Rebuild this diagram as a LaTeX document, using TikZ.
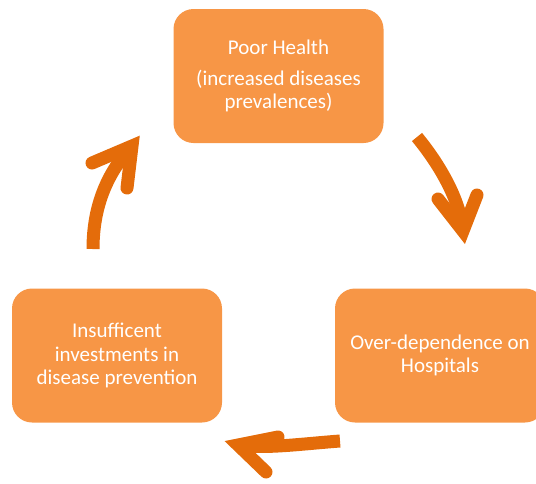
\documentclass[tikz,border=0pt]{standalone}
\usepackage{fontspec}
\setmainfont{Carlito}
\definecolor{boxorange}{HTML}{F79646}
\definecolor{arroworange}{HTML}{E46C0A}
\begin{document}
\begin{tikzpicture}[x=1pt,y=-1pt,
  cyclebox/.style={rectangle, rounded corners=20pt, fill=boxorange, draw=none,
    text=white, align=center, minimum width=210pt, minimum height=134pt,
    inner sep=0pt, font=\fontsize{21}{23.5}\selectfont},
  shaft/.style={draw=arroworange, line width=13pt, line cap=butt},
  head/.style={draw=arroworange, line width=13pt, line cap=round, line join=miter, miter limit=20}]
\useasboundingbox (0,0) rectangle (536,483);
\clip (0,0) rectangle (536,483);
\node[cyclebox] (top) at (278.5,76) {Poor Health\\[7pt](increased diseases\\prevalences)};
\node[cyclebox] (right) at (440,355.5) {Over-dependence on\\Hospitals};
\node[cyclebox] (left) at (117,355.5) {Insufficent\\investments in\\disease prevention};
% arrow top -> right
\coordinate (a1s) at (417,137);
\coordinate (a1v) at (463,231);
\coordinate (a1l) at (438,199);
\coordinate (a1r) at (477,195);
\draw[shaft] (a1s) .. controls (440,165) and (460,200) .. (a1v);
\draw[head] (a1l) -- (a1v) -- (a1r);
% arrow right -> left
\coordinate (a2s) at (340,441);
\coordinate (a2v) at (238,445);
\coordinate (a2u) at (278,437);
\coordinate (a2d) at (266,472);
\draw[shaft] (a2s) .. controls (300,444) and (265,449) .. (a2v);
\draw[head] (a2u) -- (a2v) -- (a2d);
% arrow left -> top
\coordinate (a3s) at (93,249);
\coordinate (a3v) at (132,146);
\coordinate (a3l) at (92,163);
\coordinate (a3d) at (127,188);
\draw[shaft] (a3s) .. controls (93,205) and (108,172) .. (a3v);
\draw[head] (a3l) -- (a3v) -- (a3d);
\end{tikzpicture}
\end{document}
